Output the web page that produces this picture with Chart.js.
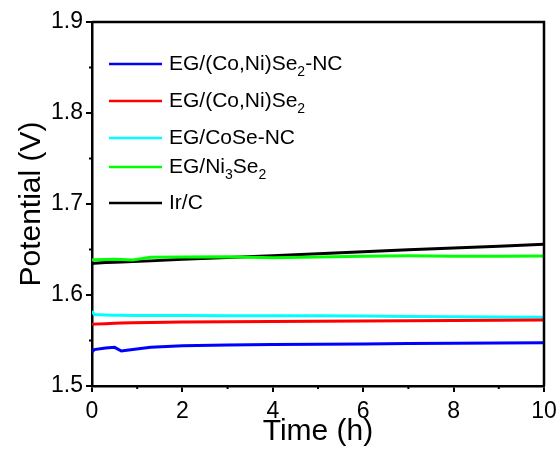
<!DOCTYPE html>
<html lang="en">
<head>
<meta charset="UTF-8">
<title>Potential vs Time</title>
<script src="https://cdn.jsdelivr.net/npm/chart.js"></script>
<style>
  body { margin: 0; background: #fff; }
  #wrap { width: 560px; height: 450px; }
</style>
</head>
<body>
<div id="wrap"><canvas id="chart" width="560" height="450"></canvas></div>
<script>
// time (h)
const time = [0, 0.05, 0.3, 0.5, 0.65, 0.9, 1.3, 2, 3, 4, 5, 6, 7, 8, 9, 10];

// potential (V)
const coNiSe2NC = [1.5375, 1.5400, 1.5418, 1.5425, 1.5385, 1.5400, 1.5425, 1.5443, 1.5450, 1.5455, 1.5458, 1.5462, 1.5468, 1.5470, 1.5472, 1.5476];
const coNiSe2   = [1.5675, 1.5680, 1.5685, 1.5690, 1.5692, 1.5695, 1.5698, 1.5702, 1.5705, 1.5708, 1.5712, 1.5715, 1.5718, 1.5720, 1.5722, 1.5725];
const coSeNC    = [1.5825, 1.5785, 1.5780, 1.5778, 1.5777, 1.5776, 1.5775, 1.5774, 1.5773, 1.5772, 1.5771, 1.5768, 1.5765, 1.5762, 1.5758, 1.5755];
const ni3Se2    = [1.6385, 1.6387, 1.6390, 1.6392, 1.6390, 1.6385, 1.6415, 1.6418, 1.6420, 1.6410, 1.6418, 1.6425, 1.6430, 1.6425, 1.6427, 1.6428];
const irC       = [1.6345, 1.6350, 1.6356, 1.6360, 1.6363, 1.6368, 1.6375, 1.6392, 1.6412, 1.6432, 1.6454, 1.6476, 1.6496, 1.6516, 1.6537, 1.6557];

// legend labels: [text, isSubscript]
const labels = [
  [['EG/(Co,Ni)Se', 0], ['2', 1], ['-NC', 0]],
  [['EG/(Co,Ni)Se', 0], ['2', 1]],
  [['EG/CoSe-NC', 0]],
  [['EG/Ni', 0], ['3', 1], ['Se', 0], ['2', 1]],
  [['Ir/C', 0]]
];
const colors = ['#0000ff', '#ff0000', '#00ffff', '#00ff00', '#000000'];
const series = [coNiSe2NC, coNiSe2, coSeNC, ni3Se2, irC];

const xTicks = [0, 2, 4, 6, 8, 10];
const xMinor = [1, 3, 5, 7, 9];
const yMinor = [1.55, 1.65, 1.75, 1.85];

const FONT = '"Liberation Sans", Arial, sans-serif';

function toPoints(vals) {
  return vals.map((v, i) => ({ x: time[i], y: v }));
}

// frame, minor ticks and legend
const extras = {
  id: 'extras',
  afterDraw(chart) {
    const ctx = chart.ctx;
    const a = chart.chartArea;
    const xs = chart.scales.x, ys = chart.scales.y;
    ctx.save();
    ctx.strokeStyle = '#000';
    ctx.lineWidth = 2.5;
    ctx.beginPath();
    ctx.moveTo(a.left, a.top);
    ctx.lineTo(a.right, a.top);
    ctx.lineTo(a.right, a.bottom);
    ctx.stroke();

    ctx.lineWidth = 2;
    ctx.beginPath();
    xMinor.forEach(v => {
      const px = xs.getPixelForValue(v);
      ctx.moveTo(px, a.bottom);
      ctx.lineTo(px, a.bottom + 3);
    });
    yMinor.forEach(v => {
      const py = ys.getPixelForValue(v);
      ctx.moveTo(a.left, py);
      ctx.lineTo(a.left - 3, py);
    });
    ctx.stroke();

    // legend
    const rowsY = [64, 101, 138, 167, 203];
    ctx.textBaseline = 'middle';
    labels.forEach((parts, i) => {
      const y = rowsY[i];
      ctx.strokeStyle = colors[i];
      ctx.lineWidth = 2.5;
      ctx.beginPath();
      ctx.moveTo(109, y);
      ctx.lineTo(162, y);
      ctx.stroke();
      let x = 169;
      ctx.fillStyle = '#000';
      parts.forEach(([t, sub]) => {
        if (sub) {
          ctx.font = '14px ' + FONT;
          ctx.fillText(t, x, y + 8);
        } else {
          ctx.font = '21px ' + FONT;
          ctx.fillText(t, x, y);
        }
        x += ctx.measureText(t).width;
      });
    });
    ctx.restore();
  }
};

new Chart(document.getElementById('chart'), {
  type: 'line',
  data: {
    datasets: series.map((vals, i) => ({
      label: labels[i].map(p => p[0]).join(''),
      data: toPoints(vals),
      borderColor: colors[i],
      borderWidth: 3,
      pointRadius: 0,
      tension: 0,
      fill: false
    }))
  },
  options: {
    responsive: false,
    animation: false,
    layout: { padding: { left: 0, top: 22, right: 16, bottom: 0 } },
    plugins: {
      legend: { display: false },
      tooltip: { enabled: false }
    },
    scales: {
      x: {
        type: 'linear',
        min: 0,
        max: 10,
        afterFit: s => { s.height = 64; s.paddingLeft = 0; s.paddingRight = 0; },
        afterBuildTicks: s => { s.ticks = xTicks.map(v => ({ value: v })); },
        border: { display: true, color: '#000', width: 2.5 },
        grid: { drawOnChartArea: false, drawTicks: true, tickLength: 6, color: '#000', lineWidth: 2 },
        ticks: { color: '#000', font: { family: FONT, size: 23 }, padding: 6, maxRotation: 0 },
        title: { display: true, text: 'Time (h)', color: '#000', font: { family: FONT, size: 30 }, padding: { top: 0, bottom: 0 } }
      },
      y: {
        min: 1.5,
        max: 1.9,
        afterFit: s => { s.width = 92; s.paddingTop = 0; s.paddingBottom = 0; },
        border: { display: true, color: '#000', width: 2.5 },
        grid: { drawOnChartArea: false, drawTicks: true, tickLength: 6, color: '#000', lineWidth: 2 },
        ticks: { stepSize: 0.1, color: '#000', font: { family: FONT, size: 23 }, padding: 3,
                 callback: v => v.toFixed(1) },
        title: { display: true, text: 'Potential (V)', color: '#000', font: { family: FONT, size: 30 }, padding: { top: 14, bottom: 0 } }
      }
    }
  },
  plugins: [extras]
});
</script>
</body>
</html>
